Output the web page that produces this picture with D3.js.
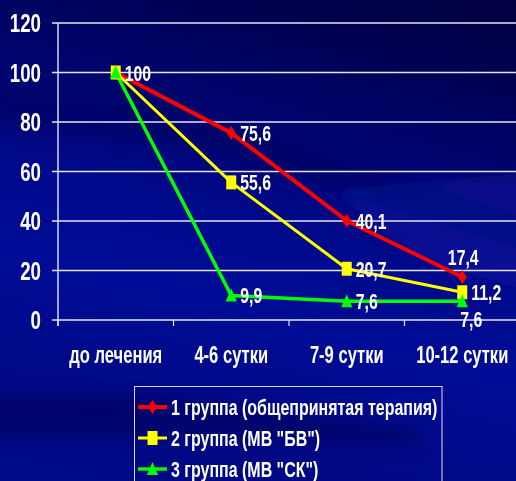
<!DOCTYPE html>
<html>
<head>
<meta charset="utf-8">
<script src="https://cdn.jsdelivr.net/npm/d3@7"></script>
<style>
  html, body { margin: 0; padding: 0; background: #000a80; overflow: hidden; }
  svg { display: block; }
  text { font-family: "Liberation Sans", Arial, sans-serif; font-weight: bold; fill: #ffffff; }
</style>
</head>
<body>
<svg id="chart" width="516" height="481"></svg>
<script>
// Categories (time points) and the three treatment groups
const categories = ["до лечения", "4-6 сутки", "7-9 сутки", "10-12 сутки"];
const group1 = [100, 75.6, 40.1, 17.4];
const group2 = [100, 55.6, 20.7, 11.2];
const group3 = [100, 9.9, 7.6, 7.6];
const seriesNames = [
  "1 группа (общепринятая терапия)",
  "2 группа (МВ \"БВ\")",
  "3 группа (МВ \"СК\")"
];
const yTicks = [0, 20, 40, 60, 80, 100, 120];

// Where each value label sits relative to its point
const labelPlacement = [
  [null, "right", "right", "above"],
  [null, "right", "right", "right"],
  ["right", "right", "right", "below"]
];

const W = 516, H = 481;
const SX = 0.72; // condensed lettering
const svg = d3.select("#chart");

// ---- background: deep blue with diagonal streaks falling to the right
const defs = svg.append("defs");
const bg = defs.append("linearGradient").attr("id", "bg")
  .attr("gradientUnits", "userSpaceOnUse")
  .attr("x1", 300).attr("y1", -60).attr("x2", 150).attr("y2", 520);
[["0", "#000040"], ["0.12", "#00004e"], ["0.25", "#000466"], ["0.38", "#00067c"],
 ["0.5", "#000a8e"], ["0.62", "#000c96"], ["0.74", "#000a8c"], ["0.84", "#000884"], ["1", "#000a86"]]
  .forEach(([o, c]) => bg.append("stop").attr("offset", o).attr("stop-color", c));
defs.append("filter").attr("id", "soft").attr("x", "-20%").attr("y", "-20%").attr("width", "140%").attr("height", "140%")
  .append("feGaussianBlur").attr("stdDeviation", 8);

svg.append("rect").attr("width", W).attr("height", H).attr("fill", "url(#bg)");
const streaks = svg.append("g").attr("filter", "url(#soft)");
const streakData = [
  { pts: [[-40, 80], [200, 110], [560, 230], [560, 260], [200, 150], [-40, 120]], c: "#000050", o: 0.35 },
  { pts: [[330, 190], [560, 170], [560, 300], [420, 260]], c: "#1022b0", o: 0.35 },
  { pts: [[-40, 398], [160, 398], [420, 430], [420, 445], [160, 432], [-40, 432]], c: "#000050", o: 0.5 }
];
streaks.selectAll("path").data(streakData).join("path")
  .attr("d", d => d3.line()(d.pts) + "Z")
  .attr("fill", d => d.c).attr("opacity", d => d.o);

// ---- scales
const x = d3.scaleBand().domain(categories).range([58, 520]);
const y = d3.scaleLinear().domain([0, 120]).range([320, 23]);
const cx = c => x(c) + x.bandwidth() / 2;

// condensed text helper
function label(g, tx, ty, str, size, anchor) {
  return g.append("text")
    .attr("transform", `translate(${tx},${ty}) scale(${SX},1)`)
    .attr("text-anchor", anchor || "start")
    .attr("font-size", size)
    .text(str);
}

// ---- gridlines and axes
const grid = svg.append("g");
grid.selectAll("line").data(yTicks).join("line")
  .attr("x1", 52).attr("x2", W)
  .attr("y1", d => y(d)).attr("y2", d => y(d))
  .attr("stroke", "#e4e4ee").attr("stroke-width", 1.4);

svg.append("line").attr("x1", 58).attr("x2", 58).attr("y1", y(120)).attr("y2", y(0) + 6)
  .attr("stroke", "#e4e4ee").attr("stroke-width", 1.4);

// category tick marks on the x axis
svg.append("g").selectAll("line").data(categories).join("line")
  .attr("x1", d => x(d)).attr("x2", d => x(d))
  .attr("y1", y(0)).attr("y2", y(0) + 6)
  .attr("stroke", "#e4e4ee").attr("stroke-width", 1.2);

const axisText = svg.append("g");
yTicks.forEach(t => label(axisText, 41, y(t) + 9, String(t), 26, "end"));
categories.forEach(c => label(axisText, cx(c), 363, c, 23, "middle"));

// ---- series
const colors = ["#ff0000", "#ffff00", "#00ff00"];
const widths = [4, 3, 3.5];
const series = [group1, group2, group3];

const symbolDiamond = "M0,-7L4.6,0L0,7L-4.6,0Z";
const symbolSquare = "M-5,-7H5V7H-5Z";
const symbolTriangle = "M0,-7L5.6,6H-5.6Z";
const shapes = [symbolDiamond, symbolSquare, symbolTriangle];

const line = d3.line().x((d, i) => cx(categories[i])).y(d => y(d));
const marks = svg.append("g");
series.forEach((vals, s) => {
  marks.append("path").attr("d", line(vals))
    .attr("fill", "none").attr("stroke", colors[s]).attr("stroke-width", widths[s])
    .attr("stroke-linejoin", "round");
});
series.forEach((vals, s) => {
  marks.append("g").selectAll("path").data(vals).join("path")
    .attr("transform", (d, i) => `translate(${cx(categories[i])},${y(d)})`)
    .attr("d", shapes[s]).attr("fill", colors[s]);
});

// ---- value labels
const fmt = v => String(v).replace(".", ",");
const valText = svg.append("g");
series.forEach((vals, s) => {
  vals.forEach((v, i) => {
    const p = labelPlacement[s][i];
    if (!p) return;
    const px = cx(categories[i]), py = y(v);
    if (p === "right") label(valText, px + 9, py + 8, fmt(v), 22, "start");
    else if (p === "above") label(valText, px + 1, py - 12, fmt(v), 22, "middle");
    else if (p === "below") label(valText, px + 9, py + 26, fmt(v), 22, "middle");
  });
});

// ---- legend
const legend = svg.append("g");
legend.append("rect").attr("x", 134.5).attr("y", 386.5).attr("width", 307.5).attr("height", 110)
  .attr("fill", "none").attr("stroke", "#d8d8e4").attr("stroke-width", 1);
seriesNames.forEach((name, s) => {
  const ly = 407 + s * 31;
  legend.append("line").attr("x1", 138).attr("x2", 167).attr("y1", ly).attr("y2", ly)
    .attr("stroke", colors[s]).attr("stroke-width", widths[s]);
  legend.append("path").attr("transform", `translate(152.5,${ly})`).attr("d", shapes[s]).attr("fill", colors[s]);
  label(legend, 171, ly + 8, name, 22.2, "start");
});
</script>
</body>
</html>
